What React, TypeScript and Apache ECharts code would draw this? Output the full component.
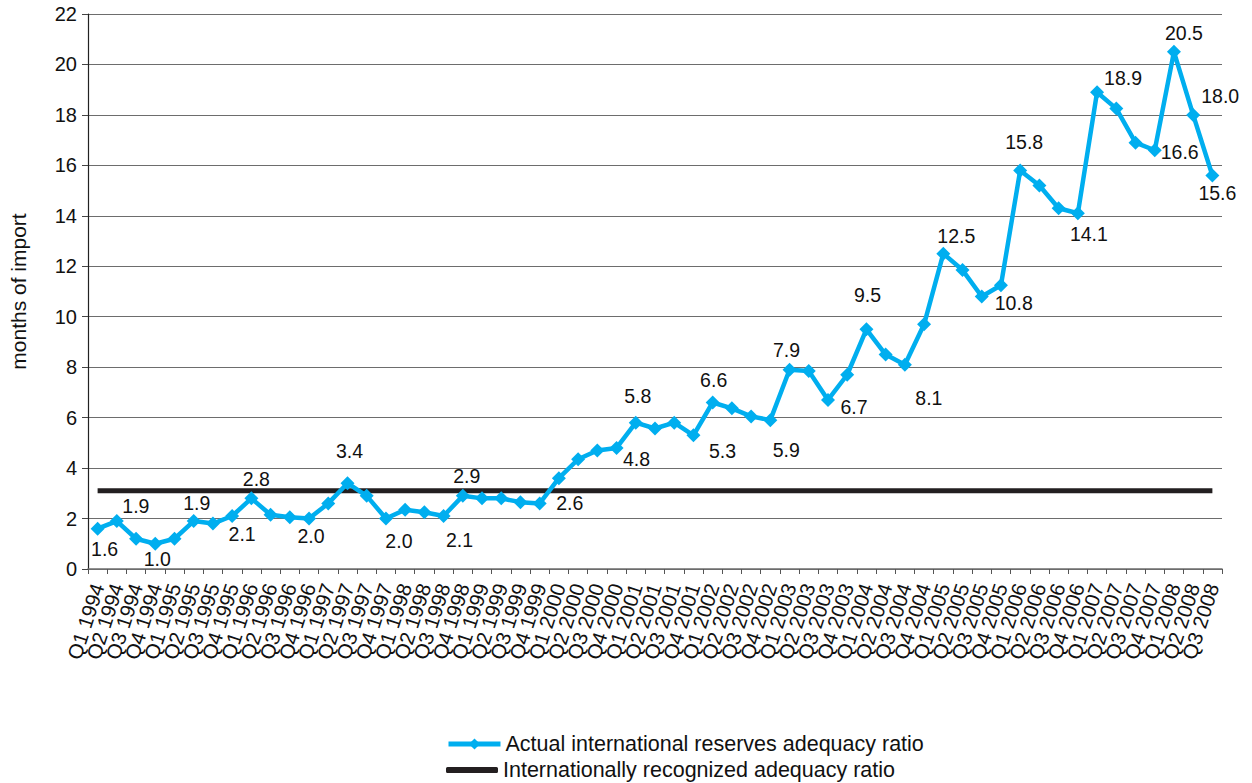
import React, { useEffect, useRef } from "react";
import * as echarts from "echarts";

const years = [1994, 1995, 1996, 1997, 1998, 1999, 2000, 2001, 2002, 2003, 2004, 2005, 2006, 2007, 2008];
const categories: string[] = [];
years.forEach((y) => {
  for (let q = 1; q <= 4; q++) {
    if (y === 2008 && q > 3) break;
    categories.push(`Q${q} ${y}`);
  }
});

const actualRatio = [
  1.6, 1.9, 1.2, 1.0, 1.2, 1.9, 1.8, 2.1, 2.8, 2.15, 2.05, 2.0,
  2.6, 3.4, 2.9, 2.0, 2.35, 2.25, 2.1, 2.9, 2.8, 2.8, 2.65, 2.6,
  3.6, 4.35, 4.7, 4.8, 5.8, 5.57, 5.8, 5.3, 6.6, 6.37, 6.05, 5.9,
  7.9, 7.85, 6.7, 7.7, 9.5, 8.5, 8.1, 9.7, 12.5, 11.85, 10.8, 11.25,
  15.8, 15.2, 14.3, 14.1, 18.9, 18.25, 16.9, 16.6, 20.5, 18.0, 15.6,
];

const recognizedRatio = categories.map(() => 3.1);

const seriesNames = [
  "Actual international reserves adequacy ratio",
  "Internationally recognized adequacy ratio",
];

// label placement: [index, dx, dy]
const labelSpots: [number, number, number][] = [
  [0, 7, 20], [1, 19, -15], [3, 2, 15], [5, 3, -18], [7, 10, 18], [8, 5, -19],
  [11, 2, 17], [13, 2, -32], [15, 13, 22], [18, 16, 24], [19, 4, -20], [23, 30, 0],
  [27, 20, 11], [28, 2, -27], [31, 29, 16], [32, 1, -23], [35, 16, 30], [36, -3, -20],
  [38, 26, 7], [40, 1, -34], [42, 24, 33], [44, 13, -18], [46, 32, 6], [48, 4, -28],
  [51, 11, 21], [52, 26, -14], [55, 25, 2], [56, 10, -19], [57, 27, -19], [58, 5, 18],
];

const FONT = "Liberation Sans, Arial, Helvetica, sans-serif";
const BLUE = "#00aeef";
const BLACK = "#231f20";

export default function App() {
  const ref = useRef<HTMLDivElement>(null);
  useEffect(() => {
    if (!ref.current) return;
    const chart = echarts.init(ref.current, undefined, { renderer: "svg" });
    const spotMap = new Map<number, [number, number]>();
    labelSpots.forEach(([i, dx, dy]) => spotMap.set(i, [dx, dy]));
    const actualData = actualRatio.map((v, i) => {
      const s = spotMap.get(i);
      if (!s) return { value: v };
      return {
        value: v,
        label: {
          show: true,
          position: "inside",
          offset: s,
          formatter: () => v.toFixed(1),
        },
      };
    });
    const legendText = { fontFamily: FONT, fontSize: 21.5, color: "#111" };
    chart.setOption({
      animation: false,
      backgroundColor: "#ffffff",
      grid: { left: 88, right: 30, top: 14, bottom: 214, containLabel: false },
      legend: [
        {
          left: 446,
          top: 733,
          itemWidth: 52,
          itemHeight: 14,
          itemGap: 0,
          padding: 0,
          textStyle: legendText,
          lineStyle: { width: 5 },
          data: [{ name: seriesNames[0], lineStyle: { width: 5, color: BLUE } }],
        },
        {
          left: 446,
          top: 755,
          itemWidth: 52,
          itemHeight: 6,
          itemGap: 0,
          padding: [4, 0, 0, 0],
          textStyle: legendText,
          data: [{ name: seriesNames[1], icon: "roundRect" }],
        },
      ],
      xAxis: {
        type: "category",
        data: categories,
        boundaryGap: true,
        axisLine: { lineStyle: { color: "#6d6d6d", width: 1.5 } },
        axisTick: { show: true, length: 5, lineStyle: { color: "#555" } },
        axisLabel: {
          interval: 0,
          rotate: 72,
          margin: 15,
          fontFamily: FONT,
          fontSize: 20.5,
          color: "#111",
        },
      },
      yAxis: {
        type: "value",
        min: 0,
        max: 22,
        interval: 2,
        name: "months of import",
        nameLocation: "middle",
        nameGap: 59,
        nameTextStyle: { fontFamily: FONT, fontSize: 21, color: "#111" },
        axisLine: { show: true, lineStyle: { color: "#222", width: 1.2 } },
        axisTick: { show: true, length: 6, lineStyle: { color: "#444" } },
        axisLabel: { fontFamily: FONT, fontSize: 20, color: "#111", margin: 11 },
        splitLine: { lineStyle: { color: "#6d6d6d", width: 1.2 } },
      },
      series: [
        {
          name: seriesNames[0],
          type: "line",
          data: actualData,
          symbol: "diamond",
          symbolSize: 14,
          z: 3,
          lineStyle: { color: BLUE, width: 4.5 },
          itemStyle: { color: BLUE },
          label: {
            show: false,
            fontFamily: FONT,
            fontSize: 19.5,
            color: "#111",
          },
        },
        {
          name: seriesNames[1],
          type: "line",
          data: recognizedRatio,
          symbol: "none",
          z: 2,
          lineStyle: { color: BLACK, width: 5 },
          itemStyle: { color: BLACK },
        },
      ],
    });
    return () => chart.dispose();
  }, []);
  return (
    <div
      ref={ref}
      style={{ position: "fixed", left: 0, top: 0, width: 1252, height: 783 }}
    />
  );
}
